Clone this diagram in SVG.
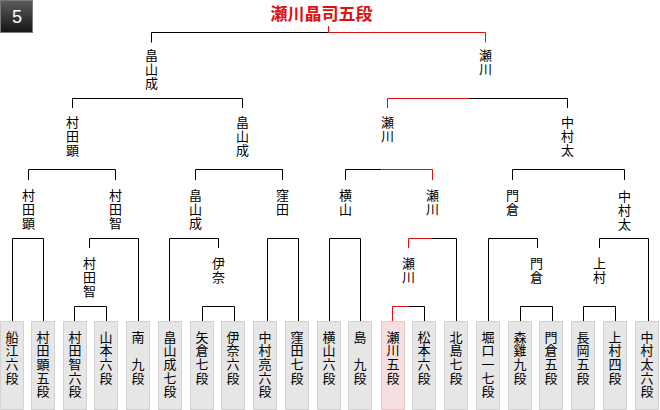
<svg xmlns="http://www.w3.org/2000/svg" width="660" height="410" viewBox="0 0 660 410">
<defs>
<linearGradient id="bg" x1="0" y1="0" x2="0" y2="1">
<stop offset="0" stop-color="#5c5c5c"/>
<stop offset="1" stop-color="#141414"/>
</linearGradient>
</defs>
<style>
text{font-family:"Liberation Sans","Noto Sans CJK JP",sans-serif;}
.lb{font-size:13px;text-anchor:middle;fill:#000;}
.bx{fill:#e6e6e6;stroke:#d3d3d3;stroke-width:1;}
.bxw{fill:#f6dede;stroke:#ebc9c9;stroke-width:1;}
.k{fill:none;stroke:#000;stroke-width:1;}
.r{fill:none;stroke:#dd1111;stroke-width:1;}
.title{font-size:17px;font-weight:bold;fill:#dd1111;text-anchor:middle;}
</style>
<rect width="660" height="410" fill="#fff"/>
<g id="badge">
<rect x="0.5" y="0.5" width="32" height="32" fill="url(#bg)" stroke="#7a7a7a"/>
<text x="17" y="22.5" font-size="18" fill="#fff" text-anchor="middle">5</text>
</g>
<g id="champion"><text class="title" x="321.5" y="20">瀬川晶司五段</text></g>

<g id="connectors">
<path class="k" d="M151.5,42.5V32.5H328.5"/>
<path class="r" d="M328.5,32.5H485.5V42.5M328.5,26V32.5"/>
<path class="k" d="M72.5,108V98.5H242.5V108"/>
<path class="r" d="M387.5,108V98.5H469"/>
<path class="k" d="M469,98.5H567.5V108"/>
<path class="k" d="M28.5,180V169.5H115.5V180"/>
<path class="k" d="M195.5,180V169.5H282.5V180"/>
<path class="k" d="M345.5,180V169.5H381.5"/>
<path class="r" d="M381.5,169.5H432.5V180"/>
<path class="k" d="M512.5,180V169.5H624.5V180"/>
<path class="k" d="M12.5,321V238.5H43.5V321"/>
<path class="k" d="M89.5,248V238.5H138.5V321"/>
<path class="k" d="M169.5,321V238.5H218.5V248"/>
<path class="k" d="M267.5,321V238.5H298.5V321"/>
<path class="k" d="M329.5,321V238.5H360.5V321"/>
<path class="r" d="M408.5,248V238.5H431.5"/>
<path class="k" d="M431.5,238.5H456.5V321"/>
<path class="k" d="M488.5,321V238.5H537.5V248"/>
<path class="k" d="M599.5,248V238.5H648.5V321"/>
<path class="k" d="M74.5,321V306.5H106.5V321"/>
<path class="k" d="M202.5,321V306.5H234.5V321"/>
<path class="r" d="M392.5,321V306.5H408.5"/>
<path class="k" d="M408.5,306.5H424.5V321"/>
<path class="k" d="M520.5,321V306.5H552.5V321"/>
<path class="k" d="M583.5,321V306.5H615.5V321"/>
</g>

<g id="r1-hatakeyama"><text class="lb"><tspan x="151.5" y="60">畠</tspan><tspan x="151.5" dy="14">山</tspan><tspan x="151.5" dy="14">成</tspan></text></g>
<g id="r1-segawa"><text class="lb"><tspan x="485.5" y="60">瀬</tspan><tspan x="485.5" dy="14">川</tspan></text></g>

<g id="r2-murataken"><text class="lb"><tspan x="72.5" y="126.5">村</tspan><tspan x="72.5" dy="14">田</tspan><tspan x="72.5" dy="14">顕</tspan></text></g>
<g id="r2-hatakeyama"><text class="lb"><tspan x="242.5" y="126.5">畠</tspan><tspan x="242.5" dy="14">山</tspan><tspan x="242.5" dy="14">成</tspan></text></g>
<g id="r2-segawa"><text class="lb"><tspan x="387.5" y="126.5">瀬</tspan><tspan x="387.5" dy="14">川</tspan></text></g>
<g id="r2-nakamurata"><text class="lb"><tspan x="567.5" y="126.5">中</tspan><tspan x="567.5" dy="14">村</tspan><tspan x="567.5" dy="14">太</tspan></text></g>

<g id="r3-murataken"><text class="lb"><tspan x="28.5" y="200">村</tspan><tspan x="28.5" dy="14">田</tspan><tspan x="28.5" dy="14">顕</tspan></text></g>
<g id="r3-muratatomo"><text class="lb"><tspan x="115.5" y="200">村</tspan><tspan x="115.5" dy="14">田</tspan><tspan x="115.5" dy="14">智</tspan></text></g>
<g id="r3-hatakeyama"><text class="lb"><tspan x="195.5" y="200">畠</tspan><tspan x="195.5" dy="14">山</tspan><tspan x="195.5" dy="14">成</tspan></text></g>
<g id="r3-kubota"><text class="lb"><tspan x="282.5" y="200">窪</tspan><tspan x="282.5" dy="14">田</tspan></text></g>
<g id="r3-yokoyama"><text class="lb"><tspan x="345.5" y="200">横</tspan><tspan x="345.5" dy="14">山</tspan></text></g>
<g id="r3-segawa"><text class="lb"><tspan x="432.5" y="200">瀬</tspan><tspan x="432.5" dy="14">川</tspan></text></g>
<g id="r3-kadokura"><text class="lb"><tspan x="512.5" y="200">門</tspan><tspan x="512.5" dy="14">倉</tspan></text></g>
<g id="r3-nakamurata"><text class="lb"><tspan x="624.5" y="201">中</tspan><tspan x="624.5" dy="14">村</tspan><tspan x="624.5" dy="14">太</tspan></text></g>

<g id="r4-muratatomo"><text class="lb"><tspan x="89.5" y="268">村</tspan><tspan x="89.5" dy="14">田</tspan><tspan x="89.5" dy="14">智</tspan></text></g>
<g id="r4-ina"><text class="lb"><tspan x="218.5" y="268">伊</tspan><tspan x="218.5" dy="14">奈</tspan></text></g>
<g id="r4-segawa"><text class="lb"><tspan x="408.5" y="268">瀬</tspan><tspan x="408.5" dy="14">川</tspan></text></g>
<g id="r4-kadokura"><text class="lb"><tspan x="536.5" y="268">門</tspan><tspan x="536.5" dy="14">倉</tspan></text></g>
<g id="r4-kamimura"><text class="lb"><tspan x="599.5" y="268">上</tspan><tspan x="599.5" dy="14">村</tspan></text></g>

<g id="p01"><rect class="bx" x="0.5" y="321.5" width="23" height="88"/><text class="lb"><tspan x="12" y="341.5">船</tspan><tspan x="12" dy="13.7">江</tspan><tspan x="12" dy="13.7">六</tspan><tspan x="12" dy="13.7">段</tspan></text></g>
<g id="p02"><rect class="bx" x="31.5" y="321.5" width="23" height="88"/><text class="lb"><tspan x="43" y="341.5">村</tspan><tspan x="43" dy="13.7">田</tspan><tspan x="43" dy="13.7">顕</tspan><tspan x="43" dy="13.7">五</tspan><tspan x="43" dy="13.7">段</tspan></text></g>
<g id="p03"><rect class="bx" x="63.5" y="321.5" width="23" height="88"/><text class="lb"><tspan x="75" y="341.5">村</tspan><tspan x="75" dy="13.7">田</tspan><tspan x="75" dy="13.7">智</tspan><tspan x="75" dy="13.7">六</tspan><tspan x="75" dy="13.7">段</tspan></text></g>
<g id="p04"><rect class="bx" x="94.5" y="321.5" width="23" height="88"/><text class="lb"><tspan x="106" y="341.5">山</tspan><tspan x="106" dy="13.7">本</tspan><tspan x="106" dy="13.7">六</tspan><tspan x="106" dy="13.7">段</tspan></text></g>
<g id="p05"><rect class="bx" x="126.5" y="321.5" width="23" height="88"/><text class="lb"><tspan x="138" y="341.5">南</tspan><tspan x="138" dy="13.7">　</tspan><tspan x="138" dy="13.7">九</tspan><tspan x="138" dy="13.7">段</tspan></text></g>
<g id="p06"><rect class="bx" x="158.5" y="321.5" width="23" height="88"/><text class="lb"><tspan x="170" y="341.5">畠</tspan><tspan x="170" dy="13.7">山</tspan><tspan x="170" dy="13.7">成</tspan><tspan x="170" dy="13.7">七</tspan><tspan x="170" dy="13.7">段</tspan></text></g>
<g id="p07"><rect class="bx" x="190.5" y="321.5" width="23" height="88"/><text class="lb"><tspan x="202" y="341.5">矢</tspan><tspan x="202" dy="13.7">倉</tspan><tspan x="202" dy="13.7">七</tspan><tspan x="202" dy="13.7">段</tspan></text></g>
<g id="p08"><rect class="bx" x="221.5" y="321.5" width="23" height="88"/><text class="lb"><tspan x="233" y="341.5">伊</tspan><tspan x="233" dy="13.7">奈</tspan><tspan x="233" dy="13.7">六</tspan><tspan x="233" dy="13.7">段</tspan></text></g>
<g id="p09"><rect class="bx" x="253.5" y="321.5" width="23" height="88"/><text class="lb"><tspan x="265" y="341.5">中</tspan><tspan x="265" dy="13.7">村</tspan><tspan x="265" dy="13.7">亮</tspan><tspan x="265" dy="13.7">六</tspan><tspan x="265" dy="13.7">段</tspan></text></g>
<g id="p10"><rect class="bx" x="285.5" y="321.5" width="23" height="88"/><text class="lb"><tspan x="297" y="341.5">窪</tspan><tspan x="297" dy="13.7">田</tspan><tspan x="297" dy="13.7">七</tspan><tspan x="297" dy="13.7">段</tspan></text></g>
<g id="p11"><rect class="bx" x="317.5" y="321.5" width="23" height="88"/><text class="lb"><tspan x="329" y="341.5">横</tspan><tspan x="329" dy="13.7">山</tspan><tspan x="329" dy="13.7">六</tspan><tspan x="329" dy="13.7">段</tspan></text></g>
<g id="p12"><rect class="bx" x="348.5" y="321.5" width="23" height="88"/><text class="lb"><tspan x="360" y="341.5">島</tspan><tspan x="360" dy="13.7">　</tspan><tspan x="360" dy="13.7">九</tspan><tspan x="360" dy="13.7">段</tspan></text></g>
<g id="p13"><rect class="bxw" x="381.5" y="321.5" width="23" height="88"/><text class="lb"><tspan x="393" y="341.5">瀬</tspan><tspan x="393" dy="13.7">川</tspan><tspan x="393" dy="13.7">五</tspan><tspan x="393" dy="13.7">段</tspan></text></g>
<g id="p14"><rect class="bx" x="412.5" y="321.5" width="23" height="88"/><text class="lb"><tspan x="424" y="341.5">松</tspan><tspan x="424" dy="13.7">本</tspan><tspan x="424" dy="13.7">六</tspan><tspan x="424" dy="13.7">段</tspan></text></g>
<g id="p15"><rect class="bx" x="444.5" y="321.5" width="23" height="88"/><text class="lb"><tspan x="456" y="341.5">北</tspan><tspan x="456" dy="13.7">島</tspan><tspan x="456" dy="13.7">七</tspan><tspan x="456" dy="13.7">段</tspan></text></g>
<g id="p16"><rect class="bx" x="476.5" y="321.5" width="23" height="88"/><text class="lb"><tspan x="488" y="341.5">堀</tspan><tspan x="488" dy="13.7">口</tspan><tspan x="488" dy="13.7">一</tspan><tspan x="488" dy="13.7">七</tspan><tspan x="488" dy="13.7">段</tspan></text></g>
<g id="p17"><rect class="bx" x="508.5" y="321.5" width="23" height="88"/><text class="lb"><tspan x="520" y="341.5">森</tspan><tspan x="520" dy="13.7">雞</tspan><tspan x="520" dy="13.7">九</tspan><tspan x="520" dy="13.7">段</tspan></text></g>
<g id="p18"><rect class="bx" x="539.5" y="321.5" width="23" height="88"/><text class="lb"><tspan x="551" y="341.5">門</tspan><tspan x="551" dy="13.7">倉</tspan><tspan x="551" dy="13.7">五</tspan><tspan x="551" dy="13.7">段</tspan></text></g>
<g id="p19"><rect class="bx" x="571.5" y="321.5" width="23" height="88"/><text class="lb"><tspan x="583" y="341.5">長</tspan><tspan x="583" dy="13.7">岡</tspan><tspan x="583" dy="13.7">五</tspan><tspan x="583" dy="13.7">段</tspan></text></g>
<g id="p20"><rect class="bx" x="603.5" y="321.5" width="23" height="88"/><text class="lb"><tspan x="615" y="341.5">上</tspan><tspan x="615" dy="13.7">村</tspan><tspan x="615" dy="13.7">四</tspan><tspan x="615" dy="13.7">段</tspan></text></g>
<g id="p21"><rect class="bx" x="635.5" y="321.5" width="23" height="88"/><text class="lb"><tspan x="647" y="341.5">中</tspan><tspan x="647" dy="13.7">村</tspan><tspan x="647" dy="13.7">太</tspan><tspan x="647" dy="13.7">六</tspan><tspan x="647" dy="13.7">段</tspan></text></g>
</svg>
